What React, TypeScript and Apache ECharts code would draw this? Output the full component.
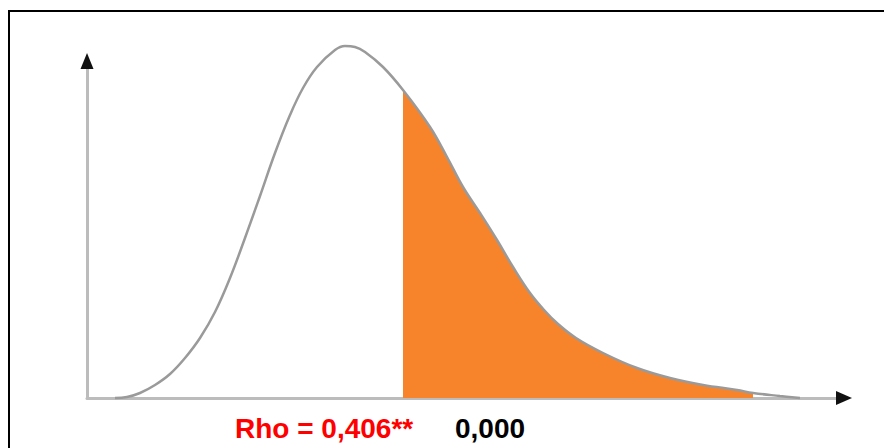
import React, { useEffect, useRef } from "react";
import * as echarts from "echarts";

// Curve: x position along the axis, density height
const curveX = [28, 40, 53, 68, 83, 98, 113, 128, 143, 158, 173, 188, 203, 216, 230, 248, 258, 268, 278, 296, 316, 343, 360, 376, 393, 410, 426, 443, 458, 471, 489, 516, 550, 583, 616, 650, 666, 693, 713];
const curveY = [0, 1, 5, 13, 24, 40, 60, 86, 120, 160, 202, 245, 283, 310, 331, 348, 352, 351, 346, 331, 308, 271, 241, 211, 185, 158, 131, 105, 87, 74, 60, 45, 30, 20, 13, 8, 5, 2, 0];
// Shaded tail starts at the statistic and ends where the fill fades
const tailStart = 316;
const tailEnd = 666;
const xMax = 757;
const yMax = 337;
const rhoLabel = "Rho = 0,406**";
const pLabel = "0,000";

export default function App() {
  const ref = useRef<HTMLDivElement>(null);
  useEffect(() => {
    if (!ref.current) return;
    const chart = echarts.init(ref.current, undefined, { renderer: "svg" });
    const curve = curveX.map((x, i) => [x, curveY[i]]);
    const tail = curve.filter(([x]) => x >= tailStart && x <= tailEnd);
    chart.setOption({
      animation: false,
      backgroundColor: "#ffffff",
      grid: { left: 87, top: 61, width: 757, height: 337, containLabel: false },
      xAxis: {
        type: "value",
        min: 0,
        max: xMax,
        axisLine: { show: true, lineStyle: { color: "#bcbcbc", width: 3 } },
        axisTick: { show: false },
        axisLabel: { show: false },
        splitLine: { show: false },
      },
      yAxis: {
        type: "value",
        min: 0,
        max: yMax,
        axisLine: { show: true, lineStyle: { color: "#bcbcbc", width: 3 } },
        axisTick: { show: false },
        axisLabel: { show: false },
        splitLine: { show: false },
      },
      series: [
        {
          type: "line",
          data: tail,
          smooth: 0.4,
          showSymbol: false,
          clip: false,
          lineStyle: { width: 0, color: "#f7842a" },
          areaStyle: { color: "#f7842a", opacity: 1, origin: "start" },
          z: 2,
          silent: true,
        },
        {
          type: "line",
          data: curve,
          smooth: 0.4,
          showSymbol: false,
          clip: false,
          lineStyle: { width: 2.5, color: "#9a9a9a" },
          z: 3,
          silent: true,
          markPoint: {
            symbol: "triangle",
            silent: true,
            label: { show: false },
            itemStyle: { color: "#111111" },
            data: [
              { coord: [xMax, 0], symbolRotate: -90, symbolSize: [14, 16] },
              { coord: [0, yMax], symbolRotate: 0, symbolSize: [13, 16] },
            ],
          },
        },
      ],
      graphic: [
        {
          type: "rect",
          shape: { x: 9, y: 11, width: 900, height: 500 },
          style: { fill: "none", stroke: "#000000", lineWidth: 2 },
          silent: true,
        },
        {
          type: "text",
          x: 235,
          y: 428,
          style: {
            text: rhoLabel,
            fill: "#ff0000",
            font: "bold 28px 'Liberation Sans', Arial, sans-serif",
            verticalAlign: "middle",
            align: "left",
          },
        },
        {
          type: "text",
          x: 455,
          y: 428,
          style: {
            text: pLabel,
            fill: "#000000",
            font: "bold 28px 'Liberation Sans', Arial, sans-serif",
            verticalAlign: "middle",
            align: "left",
          },
        },
      ],
    });
    return () => chart.dispose();
  }, []);
  return (
    <div
      ref={ref}
      style={{ position: "fixed", left: 0, top: 0, width: 884, height: 448, background: "#fff" }}
    />
  );
}
